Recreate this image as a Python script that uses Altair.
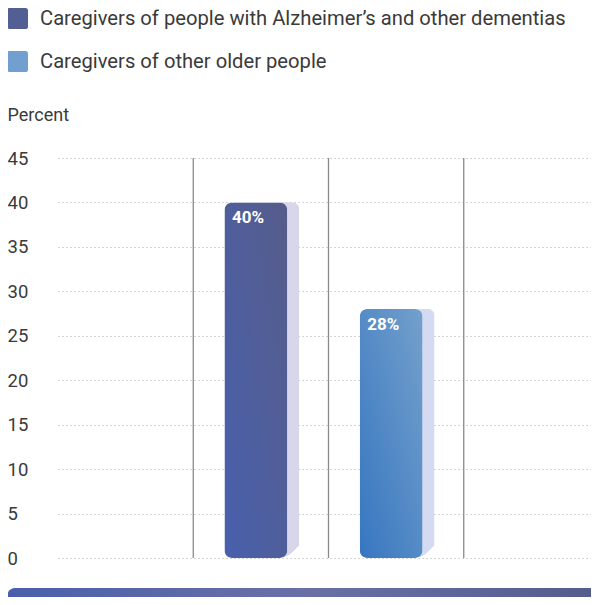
import altair as alt
import pandas as pd

# ---- data ----
categories = ["Caregivers of people with Alzheimer\u2019s and other dementias",
              "Caregivers of other older people"]
values = [40, 28]
labels = ["40%", "28%"]
slots = ["pad_left", categories[0], categories[1], "pad_right"]
separators = [categories[0], categories[1], "pad_right"]
legend_colors = ["#535e94", "#71a0d0"]
y_ticks = [0, 5, 10, 15, 20, 25, 30, 35, 40, 45]

df = pd.DataFrame({"category": categories, "value": values, "label": labels})
sep_df = pd.DataFrame({"slot": separators})

FONT = "Roboto"
xscale = alt.Scale(domain=slots, paddingInner=0, paddingOuter=0, range=[0, 541])
yscale = alt.Scale(domain=[0, 45])

X = alt.X("category:N", scale=xscale, axis=None)
Y = alt.Y("value:Q", scale=yscale,
          axis=alt.Axis(values=y_ticks, title="Percent", titleAngle=0,
                        titleX=-51, titleY=-38, titleAlign="left",
                        titleBaseline="alphabetic", titleFont=FONT,
                        titleFontSize=18, titleFontWeight="normal",
                        titleColor="#3a3a3a", labelFont=FONT,
                        labelFontSize=18.5, labelColor="#3a3a3a",
                        labelAlign="left", labelPadding=51, ticks=False,
                        domain=False, grid=True, gridDash=[1.2, 2.8],
                        gridColor="#b8b8b8", gridWidth=1))

front_grads = [
    {"gradient": "linear", "x1": 0, "y1": 1, "x2": 1, "y2": 0,
     "stops": [{"offset": 0, "color": "#4860ad"}, {"offset": 1, "color": "#565c8a"}]},
    {"gradient": "linear", "x1": 0, "y1": 1, "x2": 1, "y2": 0,
     "stops": [{"offset": 0, "color": "#3676c0"}, {"offset": 1, "color": "#74a0cc"}]},
]
back_colors = ["#d8d6ea", "#d3daf1"]

base = alt.Chart(df)

# legend carrier (hidden behind bars)
legend_layer = base.mark_square(size=1, yOffset=150).encode(
    x=X,
    y=Y,
    color=alt.Color("category:N",
                    scale=alt.Scale(domain=categories, range=legend_colors),
                    legend=alt.Legend(title=None, orient="none", legendX=-51,
                                      legendY=-150, direction="vertical",
                                      symbolType="M-0.78,-1H0.78A0.22,0.22,0,0,1,1,-0.78V0.78A0.22,0.22,0,0,1,0.78,1H-0.78A0.22,0.22,0,0,1,-1,0.78V-0.78A0.22,0.22,0,0,1,-0.78,-1Z",
                                      symbolSize=441, symbolStrokeWidth=0,
                                      symbolOpacity=1,
                                      labelFont=FONT, labelFontSize=20.2,
                                      labelColor="#3a3a3a", labelOffset=12,
                                      rowPadding=22, labelLimit=600,
                                      padding=0)),
)

# extruded depth (3D side and lid) built from stepped copies behind the front face
depth_steps = list(range(1, 13))
layers = []
for i, cat in enumerate(categories):
    sub = base.transform_filter(alt.datum.category == cat)
    for k in depth_steps:
        layers.append(sub.mark_bar(width=63, xOffset=-5 + k, yOffset=-k,
                                   cornerRadius=7, color=back_colors[i]
                                   ).encode(x=X, y=Y))
    layers.append(sub.mark_bar(width=63, xOffset=-5, cornerRadius=8,
                               color=front_grads[i]).encode(x=X, y=Y))

rules = alt.Chart(sep_df).mark_rule(color="#8a8a8a", strokeWidth=1.3).encode(
    x=alt.X("slot:N", scale=xscale, axis=None, bandPosition=0),
    y=alt.value(0), y2=alt.value(400))

text = base.mark_text(align="left", baseline="alphabetic", dx=-29, dy=21,
                      font=FONT, fontSize=17, fontWeight="bold",
                      color="white").encode(x=X, y=Y, text="label:N")

bottom_bar = alt.Chart(pd.DataFrame({"k": [0]})).mark_rect(
    cornerRadius=8,
    color={"gradient": "linear", "x1": 0, "y1": 0, "x2": 1, "y2": 0,
           "stops": [{"offset": 0, "color": "#4a5fab"},
                     {"offset": 0.5, "color": "#6a70a6"},
                     {"offset": 1, "color": "#525d8d"}]}
).encode(x=alt.value(-51), x2=alt.value(539), y=alt.value(430), y2=alt.value(452))

chart = alt.layer(rules, legend_layer, *layers, text, bottom_bar).properties(
    width=533, height=400,
    padding={"left": 50, "top": 150, "right": 0, "bottom": 39},
    autosize="none",
).configure_view(stroke=None)

chart.save("out.html", embed_options={"renderer": "svg", "actions": False})
